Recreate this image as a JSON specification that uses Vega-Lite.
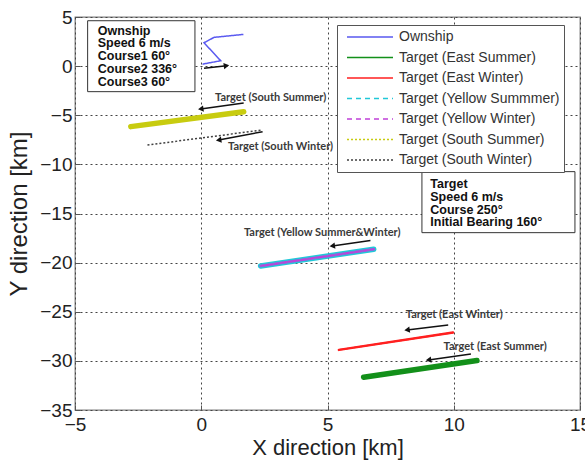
{
  "$schema": "https://vega.github.io/schema/vega-lite/v6.json",
  "width": 505,
  "height": 393,
  "autosize": "none",
  "padding": {"left": 75, "top": 17, "right": 5, "bottom": 53},
  "background": "white",
  "config": {
    "view": {"stroke": "#808080", "strokeWidth": 1.3},
    "font": "Liberation Sans",
    "axis": {
      "labelFont": "Liberation Sans",
      "labelFontSize": 19,
      "labelColor": "#222222",
      "labelFlush": false,
      "titleFont": "Liberation Sans",
      "titleFontWeight": "normal",
      "titleColor": "#222222",
      "gridColor": "#444444",
      "gridDash": [2, 3],
      "gridWidth": 1,
      "domain": false,
      "tickColor": "#555555",
      "tickSize": -5
    },
    "legend": {
      "orient": "none",
      "legendX": 262,
      "legendY": 8,
      "title": null,
      "symbolType": "stroke",
      "symbolSize": 2116,
      "symbolStrokeWidth": 1.5,
      "clipHeight": 16,
      "rowPadding": 4.5,
      "padding": 4,
      "symbolOffset": 5,
      "labelOffset": 5,
      "labelLimit": 300,
      "labelFont": "Liberation Sans",
      "labelFontSize": 14,
      "labelColor": "#333333",
      "strokeColor": "#555555",
      "fillColor": "white"
    }
  },
  "datasets": {
    "tracks": [
      {"series": "Ownship", "step": 1, "x": 0.05, "y": 0.2},
      {"series": "Ownship", "step": 2, "x": 0.77, "y": 0.55},
      {"series": "Ownship", "step": 3, "x": 0.11, "y": 2.38},
      {"series": "Ownship", "step": 4, "x": 0.51, "y": 2.93},
      {"series": "Ownship", "step": 5, "x": 1.67, "y": 3.23},
      {"series": "Target (East Summer)", "step": 1, "x": 6.43, "y": -31.66},
      {"series": "Target (East Summer)", "step": 2, "x": 10.92, "y": -29.97},
      {"series": "Target (East Winter)", "step": 1, "x": 5.45, "y": -28.88},
      {"series": "Target (East Winter)", "step": 2, "x": 9.97, "y": -27.12},
      {"series": "Target (Yellow Summmer)", "step": 1, "x": 2.35, "y": -20.34},
      {"series": "Target (Yellow Summmer)", "step": 2, "x": 6.83, "y": -18.64},
      {"series": "Target (Yellow Winter)", "step": 1, "x": 2.35, "y": -20.34},
      {"series": "Target (Yellow Winter)", "step": 2, "x": 6.83, "y": -18.64},
      {"series": "Target (South Summer)", "step": 1, "x": -2.79, "y": -6.16},
      {"series": "Target (South Summer)", "step": 2, "x": 1.68, "y": -4.64},
      {"series": "Target (South Winter)", "step": 1, "x": -2.13, "y": -8.03},
      {"series": "Target (South Winter)", "step": 2, "x": 2.42, "y": -6.5}
    ],
    "arrows": [
      {"dir": "right", "x": 0.11, "y": -0.22, "x2": 1.0, "y2": 0.04},
      {"dir": "left", "x": 1.68, "y": -3.75, "x2": -0.02, "y2": -4.36},
      {"dir": "left", "x": 2.43, "y": -6.67, "x2": 0.69, "y2": -7.52},
      {"dir": "left", "x": 6.7, "y": -17.76, "x2": 5.19, "y2": -18.3},
      {"dir": "left", "x": 9.78, "y": -26.34, "x2": 8.15, "y2": -26.85},
      {"dir": "left", "x": 10.68, "y": -29.29, "x2": 9.0, "y2": -29.9}
    ],
    "notes": [
      {"label": "Target (South Summer)", "x": 2.75, "y": -3.21},
      {"label": "Target (South Winter)", "x": 3.14, "y": -8.2},
      {"label": "Target (Yellow Summer&Winter)", "x": 4.79, "y": -16.95},
      {"label": "Target (East Winter)", "x": 10.02, "y": -25.32},
      {"label": "Target (East Summer)", "x": 11.64, "y": -28.55}
    ],
    "boxes": [
      {"x": -4.5, "x2": -0.25, "y": 4.62, "y2": -2.6, "tx": -4.1, "ty": 3.2,
       "label": "Ownship\nSpeed 6 m/s\nCourse1 60°\nCourse2 336°\nCourse3 60°"},
      {"x": 8.74, "x2": 14.8, "y": -10.74, "y2": -16.95, "tx": 9.07, "ty": -12.4,
       "label": "Target\nSpeed 6 m/s\nCourse 250°\nInitial Bearing 160°"}
    ]
  },
  "layer": [
    {
      "data": {"name": "boxes"},
      "mark": {"type": "rect", "fill": "white", "stroke": "#333333", "strokeWidth": 1},
      "encoding": {
        "x": {"field": "x", "type": "quantitative",
              "scale": {"domain": [-5, 15], "nice": false, "zero": false},
              "axis": {"values": [-5, 0, 5, 10, 15], "title": "X direction [km]", "titleFontSize": 22, "labelPadding": 10, "titlePadding": 3}},
        "x2": {"field": "x2"},
        "y": {"field": "y", "type": "quantitative",
              "scale": {"domain": [-35, 5], "nice": false, "zero": false},
              "axis": {"values": [-35, -30, -25, -20, -15, -10, -5, 0, 5], "title": "Y direction [km]", "titleFontSize": 24, "labelPadding": 8, "titlePadding": 8}},
        "y2": {"field": "y2"}
      }
    },
    {
      "data": {"name": "boxes"},
      "mark": {"type": "text", "align": "left", "baseline": "alphabetic", "font": "Liberation Sans",
               "fontSize": 12.5, "fontWeight": "bold", "lineHeight": 12.8, "lineBreak": "\n", "color": "#111111"},
      "encoding": {
        "x": {"field": "tx", "type": "quantitative", "scale": {"domain": [-5, 15], "nice": false, "zero": false}},
        "y": {"field": "ty", "type": "quantitative", "scale": {"domain": [-35, 5], "nice": false, "zero": false}},
        "text": {"field": "label"}
      }
    },
    {
      "data": {"name": "tracks"},
      "transform": [{"filter": {"field": "series", "oneOf": ["Target (East Summer)", "Target (South Summer)", "Target (Yellow Summmer)"]}}],
      "mark": {"type": "line", "strokeWidth": 5.5, "strokeCap": "round"},
      "encoding": {
        "x": {"field": "x", "type": "quantitative", "scale": {"domain": [-5, 15], "nice": false, "zero": false}},
        "y": {"field": "y", "type": "quantitative", "scale": {"domain": [-35, 5], "nice": false, "zero": false}},
        "order": {"field": "step"},
        "color": {"field": "series", "type": "nominal",
                  "scale": {"domain": ["Ownship", "Target (East Summer)", "Target (East Winter)", "Target (Yellow Summmer)", "Target (Yellow Winter)", "Target (South Summer)", "Target (South Winter)"],
                            "range": ["#5a5af0", "#13901a", "#ff2020", "#20c8d8", "#c040d8", "#c8cc10", "#404040"]}}
      }
    },
    {
      "data": {"name": "tracks"},
      "transform": [{"filter": {"field": "series", "oneOf": ["Target (East Winter)", "Target (Yellow Winter)"]}}],
      "mark": {"type": "line", "strokeWidth": 2.5, "strokeCap": "round"},
      "encoding": {
        "x": {"field": "x", "type": "quantitative", "scale": {"domain": [-5, 15], "nice": false, "zero": false}},
        "y": {"field": "y", "type": "quantitative", "scale": {"domain": [-35, 5], "nice": false, "zero": false}},
        "order": {"field": "step"},
        "color": {"field": "series", "type": "nominal"}
      }
    },
    {
      "data": {"name": "tracks"},
      "mark": {"type": "line", "strokeWidth": 1.5},
      "encoding": {
        "x": {"field": "x", "type": "quantitative", "scale": {"domain": [-5, 15], "nice": false, "zero": false}},
        "y": {"field": "y", "type": "quantitative", "scale": {"domain": [-35, 5], "nice": false, "zero": false}},
        "order": {"field": "step"},
        "color": {"field": "series", "type": "nominal"},
        "strokeDash": {"field": "series", "type": "nominal",
                       "scale": {"domain": ["Ownship", "Target (East Summer)", "Target (East Winter)", "Target (Yellow Summmer)", "Target (Yellow Winter)", "Target (South Summer)", "Target (South Winter)"],
                                 "range": [[1, 0], [1, 0], [1, 0], [5, 4], [5, 4], [2, 2], [2, 2]]}}
      }
    },
    {
      "data": {"name": "arrows"},
      "mark": {"type": "rule", "color": "#111111", "strokeWidth": 1.5},
      "encoding": {
        "x": {"field": "x", "type": "quantitative", "scale": {"domain": [-5, 15], "nice": false, "zero": false}},
        "y": {"field": "y", "type": "quantitative", "scale": {"domain": [-35, 5], "nice": false, "zero": false}},
        "x2": {"field": "x2"},
        "y2": {"field": "y2"}
      }
    },
    {
      "data": {"name": "arrows"},
      "mark": {"type": "point", "filled": true, "color": "#111111", "size": 40, "angle": 352, "opacity": 1},
      "encoding": {
        "x": {"field": "x2", "type": "quantitative", "scale": {"domain": [-5, 15], "nice": false, "zero": false}},
        "y": {"field": "y2", "type": "quantitative", "scale": {"domain": [-35, 5], "nice": false, "zero": false}},
        "shape": {"field": "dir", "type": "nominal",
                  "scale": {"domain": ["left", "right"], "range": ["triangle-left", "triangle-right"]},
                  "legend": null}
      }
    },
    {
      "data": {"name": "notes"},
      "mark": {"type": "text", "align": "center", "baseline": "middle", "font": "Lato",
               "fontSize": 11, "fontWeight": "bold", "color": "#3a3a3a"},
      "encoding": {
        "x": {"field": "x", "type": "quantitative", "scale": {"domain": [-5, 15], "nice": false, "zero": false}},
        "y": {"field": "y", "type": "quantitative", "scale": {"domain": [-35, 5], "nice": false, "zero": false}},
        "text": {"field": "label"}
      }
    }
  ]
}
